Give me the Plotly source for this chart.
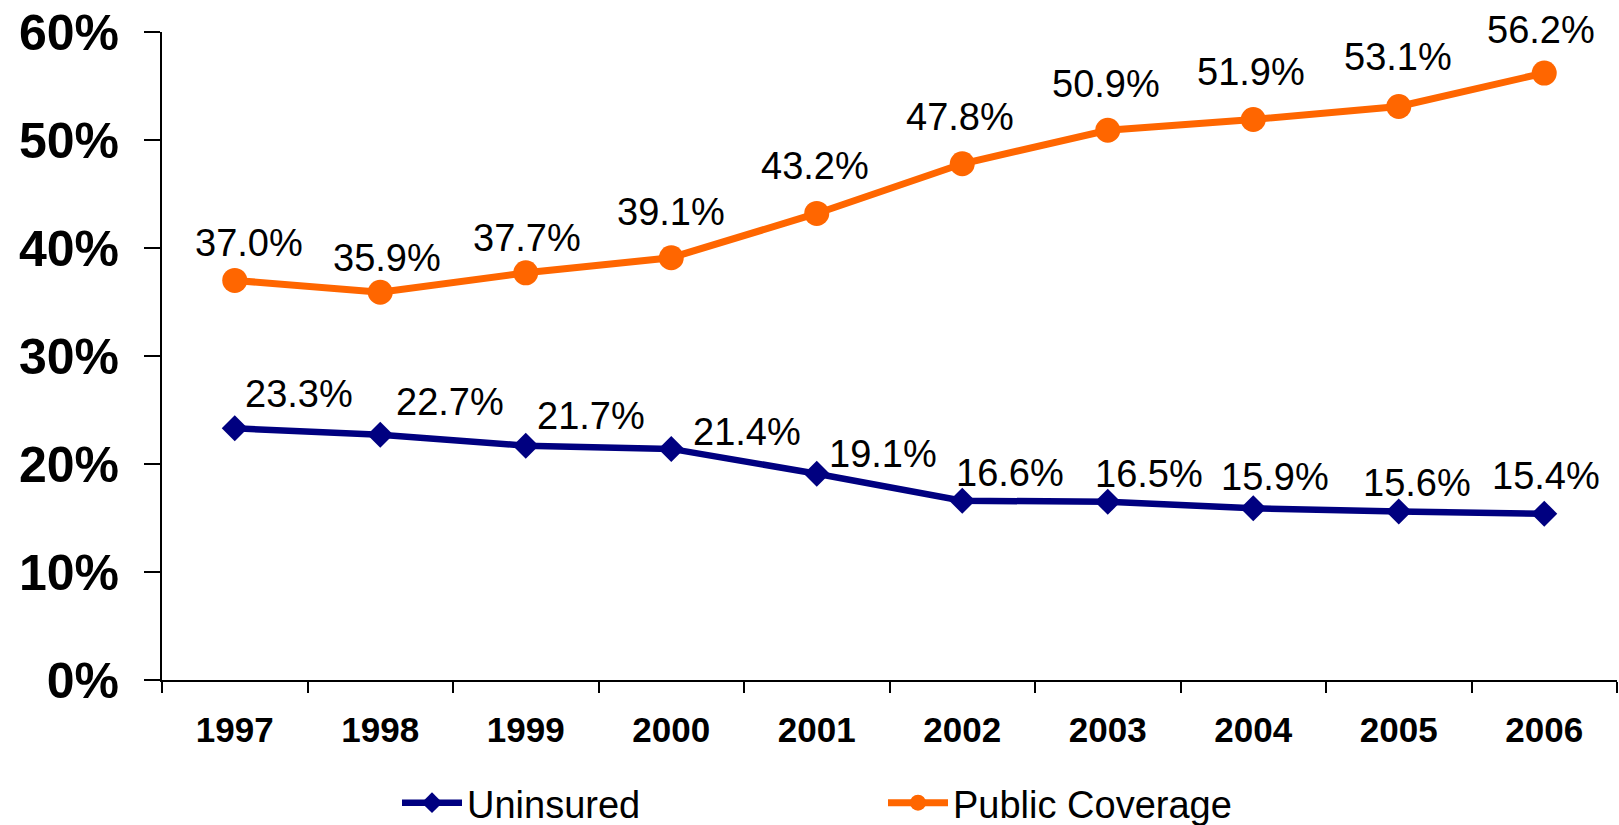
import plotly.graph_objects as go

years = [1997, 1998, 1999, 2000, 2001, 2002, 2003, 2004, 2005, 2006]
uninsured = [23.3, 22.7, 21.7, 21.4, 19.1, 16.6, 16.5, 15.9, 15.6, 15.4]
public_coverage = [37.0, 35.9, 37.7, 39.1, 43.2, 47.8, 50.9, 51.9, 53.1, 56.2]
y_ticks = [0, 10, 20, 30, 40, 50, 60]
y_tick_labels = ["0%", "10%", "20%", "30%", "40%", "50%", "60%"]
x_tick_labels = ["1997", "1998", "1999", "2000", "2001", "2002", "2003", "2004", "2005", "2006"]

# label nudges in pixels (style only)
uninsured_dx = [64, 70, 65, 76, 66, 48, 41, 22, 18, 2]
uninsured_dy = [34, 33, 30, 17, 20, 28, 28, 31, 29, 38]
public_dx = [14, 7, 1, 0, -2, -2, -2, -2, -1, -3]
public_dy = [37, 34, 35, 46, 47, 47, 46, 47, 50, 43]

NAVY = "#000080"
ORANGE = "#FF6600"
FONT = "Liberation Sans, Arial, sans-serif"

fig = go.Figure()
fig.add_trace(go.Scatter(
    x=years, y=uninsured, name="Uninsured", mode="lines+markers",
    line=dict(color=NAVY, width=6.5),
    marker=dict(symbol="diamond", size=20, color=NAVY),
))
fig.add_trace(go.Scatter(
    x=years, y=public_coverage, name="Public Coverage", mode="lines+markers",
    line=dict(color=ORANGE, width=7),
    marker=dict(symbol="circle", size=25, color=ORANGE),
))

annotations = []
for yr, v, dx, dy in zip(years, uninsured, uninsured_dx, uninsured_dy):
    annotations.append(dict(x=yr, y=v, xref="x", yref="y", text=f"{v:.1f}%", showarrow=False,
                            xshift=dx, yshift=dy, font=dict(family=FONT, size=38, color="black")))
for yr, v, dx, dy in zip(years, public_coverage, public_dx, public_dy):
    annotations.append(dict(x=yr, y=v, xref="x", yref="y", text=f"{v:.1f}%", showarrow=False,
                            xshift=dx, yshift=dy, font=dict(family=FONT, size=38, color="black")))

fig.update_layout(
    width=1619, height=825,
    margin=dict(l=162, r=2, t=32, b=145),
    paper_bgcolor="white", plot_bgcolor="white",
    font=dict(family=FONT, color="black"),
    annotations=annotations,
    showlegend=True,
    legend=dict(
        orientation="h", xref="container", yref="container",
        x=397 / 1619, xanchor="left", y=(825 - 803) / 825, yanchor="middle",
        font=dict(family=FONT, size=38, color="black"),
        itemwidth=60, entrywidth=411, entrywidthmode="pixels",
        bgcolor="rgba(0,0,0,0)", borderwidth=0,
    ),
    xaxis=dict(
        range=[years[0] - 0.5, years[-1] + 0.5],
        tickmode="array", tickvals=years, ticktext=x_tick_labels, ticks="",
        minor=dict(tick0=years[0] - 0.5, dtick=1, ticks="outside", ticklen=11,
                   tickwidth=2, tickcolor="black", showgrid=False),
        showline=True, linecolor="black", linewidth=2,
        showgrid=False, zeroline=False,
        tickfont=dict(family=FONT, size=35, color="black", weight="bold"),
        ticklabelstandoff=18,
    ),
    yaxis=dict(
        range=[0, 60], tickmode="array", tickvals=y_ticks, ticktext=y_tick_labels,
        showline=True, linecolor="black", linewidth=2,
        ticks="outside", ticklen=16, tickwidth=2, tickcolor="black",
        showgrid=False, zeroline=False,
        tickfont=dict(family=FONT, size=50, color="black", weight="bold"),
        ticklabelstandoff=15,
    ),
)

fig.write_html("out.html", config={"displayModeBar": False},
               post_script="document.body.style.margin='0';")
